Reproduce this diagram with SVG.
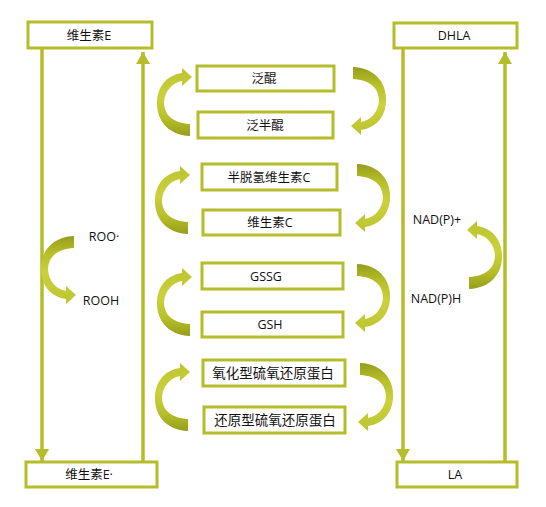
<svg xmlns="http://www.w3.org/2000/svg" width="546" height="507" viewBox="0 0 546 507" xmlns:xlink="http://www.w3.org/1999/xlink">
<style>
.box{fill:#ffffff;stroke:#b5bd2b;stroke-width:3}
.t{font-family:"Open Sans","Noto Sans CJK SC",sans-serif;font-size:12.5px;fill:#111;text-anchor:middle}
.tb{font-size:13.5px}
.ln{stroke:#b5bd2b;stroke-width:3.5;fill:none}
.ca{fill:url(#cg)}
</style>
<defs>
<linearGradient id="cg" x1="0" y1="1" x2="0" y2="0">
<stop offset="0" stop-color="#959e1c"/>
<stop offset="0.25" stop-color="#b6be28"/>
<stop offset="0.55" stop-color="#cad13d"/>
<stop offset="1" stop-color="#bcc42e"/>
</linearGradient>
<marker id="ah" markerUnits="userSpaceOnUse" markerWidth="14" markerHeight="14" refX="12" refY="7" orient="auto">
<path d="M0,0 L12,7 L0,14 Z" fill="#b5bd2b"/>
</marker>
<path id="carrow" class="ca" d="M33,67 C10,66 -1,50 0,32 C1,16 11,6 25,4 L25,-1 L35,8 L25,17 L25,12 C15,14 8,22 7,33 C7,46 16,54 33,55 Z"/>
</defs>

<g id="connectors">
<line class="ln" x1="42" y1="48" x2="42" y2="461" marker-end="url(#ah)"/>
<line class="ln" x1="143" y1="462" x2="143" y2="52" marker-end="url(#ah)"/>
<line class="ln" x1="403" y1="48" x2="403" y2="461" marker-end="url(#ah)"/>
<line class="ln" x1="505" y1="462" x2="505" y2="52" marker-end="url(#ah)"/>
<use xlink:href="#carrow" transform="translate(157,69)"/>
<use xlink:href="#carrow" transform="translate(386,134) scale(-1,-1)"/>
<use xlink:href="#carrow" transform="translate(155,167)"/>
<use xlink:href="#carrow" transform="translate(390,231) scale(-1,-1)"/>
<use xlink:href="#carrow" transform="translate(157,269)"/>
<use xlink:href="#carrow" transform="translate(390,331) scale(-1,-1)"/>
<use xlink:href="#carrow" transform="translate(155,364)"/>
<use xlink:href="#carrow" transform="translate(393,430) scale(-1,-1)"/>
<use xlink:href="#carrow" transform="translate(41,303) scale(1,-1)"/>
<use xlink:href="#carrow" transform="translate(502,222) scale(-1,1)"/>
</g>

<g id="vitE"><rect class="box" x="28" y="22" width="124" height="26"/><text class="t" x="89" y="39.5">维生素E</text></g>
<g id="vitE-rad"><rect class="box" x="26" y="462" width="131" height="25"/><text class="t" x="89" y="479">维生素E·</text></g>
<g id="dhla"><rect class="box" x="394" y="23" width="123" height="25"/><text class="t" x="454" y="40">DHLA</text></g>
<g id="la"><rect class="box" x="397" y="462" width="120" height="25"/><text class="t" x="455" y="479">LA</text></g>
<g id="ubiquinone"><rect class="box" x="197" y="66" width="137" height="25"/><text class="t" x="264" y="83">泛醌</text></g>
<g id="semiquinone"><rect class="box" x="198" y="112" width="135" height="26"/><text class="t" x="265" y="129.5">泛半醌</text></g>
<g id="dhvc"><rect class="box" x="202" y="164" width="135" height="26"/><text class="t" x="269" y="181.5">半脱氢维生素C</text></g>
<g id="vitC"><rect class="box" x="203" y="210" width="137" height="25"/><text class="t" x="270" y="227">维生素C</text></g>
<g id="gssg"><rect class="box" x="202" y="263" width="141" height="26"/><text class="t" x="266" y="280.5">GSSG</text></g>
<g id="gsh"><rect class="box" x="202" y="312" width="141" height="25"/><text class="t" x="270" y="329">GSH</text></g>
<g id="trx-ox"><rect class="box" x="203" y="360" width="142" height="26"/><text class="t tb" x="273" y="378">氧化型硫氧还原蛋白</text></g>
<g id="trx-red"><rect class="box" x="204" y="407" width="141" height="26"/><text class="t tb" x="275" y="425">还原型硫氧还原蛋白</text></g>

<g id="labels">
<text class="t" x="104" y="241">ROO·</text>
<text class="t" x="101" y="305">ROOH</text>
<text class="t" x="437" y="224">NAD(P)+</text>
<text class="t" x="436" y="303">NAD(P)H</text>
</g>
</svg>
